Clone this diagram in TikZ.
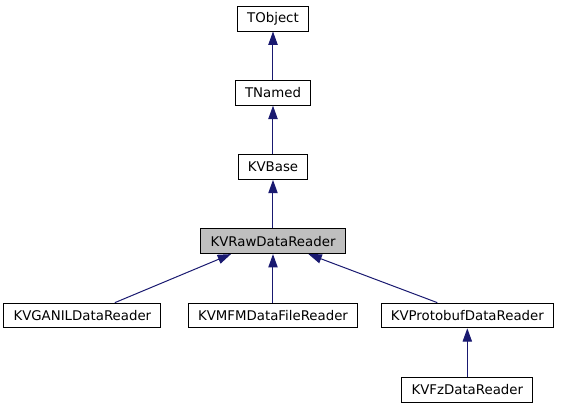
\documentclass[tikz,border=0pt]{standalone}
\usepackage{fontspec}
\setmainfont{DejaVu Sans}
\usepackage{xcolor}
\usepackage{tikz}
\usetikzlibrary{positioning,arrows.meta}

\definecolor{edgeblue}{RGB}{25,25,112}
\definecolor{curgray}{RGB}{191,191,191}

\begin{document}
\begin{tikzpicture}[node distance=36.4pt,
    every node/.style={font=\fontsize{10pt}{12pt}\selectfont},
    cls/.style={draw=black, line width=0.75pt, fill=white,
        inner xsep=7.2pt, minimum height=18.5pt},
    inh/.style={draw=edgeblue, line width=0.75pt,
        -{Triangle[length=10pt,width=7pt]}}]

  \useasboundingbox (-204.75pt,14pt) rectangle (216pt,-294.25pt);

  %% ─── Base chain ──────────────────────────────────────────────────────
  \node[cls] (tobject) at (0, 0) {TObject};
  \node[cls, below=of tobject] (tnamed) {TNamed};
  \node[cls, below=of tnamed] (kvbase) {KVBase};
  \node[cls, fill=curgray, below=of kvbase] (rawreader) {KVRawDataReader};

  %% ─── Derived readers ─────────────────────────────────────────────────
  \node[cls, below=of rawreader] (mfmreader) {KVMFMDataFileReader};
  \node[cls, left=20pt of mfmreader] (ganilreader) {KVGANILDataReader};
  \node[cls, right=17pt of mfmreader] (protoreader) {KVProtobufDataReader};
  \node[cls, below=of protoreader] (fzreader) {KVFzDataReader};

  %% inheritance arrows (child -> parent)
  \draw[inh] (tnamed.north) -- (tobject.south);
  \draw[inh] (kvbase.north) -- (tnamed.south);
  \draw[inh] (rawreader.north) -- (kvbase.south);
  \draw[inh] ([xshift=24.4pt]ganilreader.north) -- ([xshift=-31.5pt]rawreader.south);
  \draw[inh] (mfmreader.north) -- (rawreader.south);
  \draw[inh] ([xshift=-22.5pt]protoreader.north) -- ([xshift=26.6pt]rawreader.south);
  \draw[inh] (fzreader.north) -- (protoreader.south);

\end{tikzpicture}
\end{document}
